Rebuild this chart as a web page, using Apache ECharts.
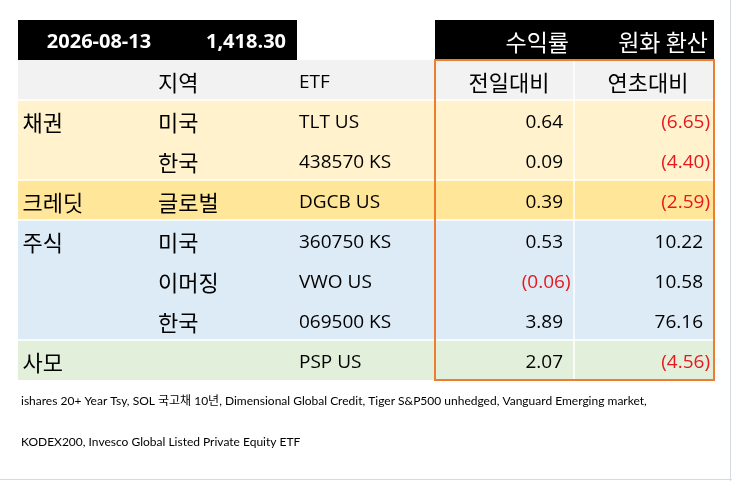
<!DOCTYPE html>
<html>
<head>
<meta charset="utf-8">
<script src="https://cdn.jsdelivr.net/npm/echarts@6/dist/echarts.min.js"></script>
<style>
html,body{margin:0;padding:0;background:#fff;}
#chart{width:732px;height:481px;}
</style>
</head>
<body>
<div id="chart"></div>
<script>
// ---- data ----
const titleDate = '2026-08-13';
const fxRate = 1418.30;
const titleLabels = ['수익률', '원화 환산'];
const headerLabels = ['지역', 'ETF', '전일대비', '연초대비'];
const assetGroups = ['채권', '', '크레딧', '주식', '', '', '사모'];
const groupKeys = ['bond', 'bond', 'credit', 'equity', 'equity', 'equity', 'pe'];
const regions = ['미국', '한국', '글로벌', '미국', '이머징', '한국', ''];
const etfs = ['TLT US', '438570 KS', 'DGCB US', '360750 KS', 'VWO US', '069500 KS', 'PSP US'];
const dailyReturn = [0.64, 0.09, 0.39, 0.53, -0.06, 3.89, 2.07];
const ytdReturn = [-6.65, -4.40, -2.59, 10.22, 10.58, 76.16, -4.56];
const footnotes = [
  'ishares 20+ Year Tsy, SOL 국고채 10년, Dimensional Global Credit, Tiger S&P500 unhedged, Vanguard Emerging market,',
  'KODEX200, Invesco Global Listed Private Equity ETF'
];

// ---- styles ----
const rowFill = { bond: '#fff2cc', credit: '#ffe699', equity: '#ddebf7', pe: '#e2efda' };
const FONT = '"Open Sans", "Noto Sans CJK KR", sans-serif';
const KFONT = '"Noto Sans CJK KR", "Open Sans", sans-serif';
const RED = '#e8171d';
const ORANGE = '#ed7d31';

// column layout in grid units (1 unit = 1px)
const X = { start: 0, titleLeftEnd: 279, valStart: 417, mid: 556, end: 696,
  grp: 4.5, region: 140, etf: 281,
  dailyPos: 545, dailyNeg: 552.5, ytdPos: 685, ytdNeg: 692,
  hdrDaily: 491, hdrYtd: 630, date: 81, fx: 268, tit1: 551, tit2: 690 };

function fmtNum(v) {
  const s = Math.abs(v).toFixed(2);
  return v < 0 ? '(' + s + ')' : s;
}
function fmtFx(v) {
  return v.toLocaleString('en-US', { minimumFractionDigits: 2, maximumFractionDigits: 2 });
}

function box(api, x1, y1, x2, y2) {
  const a = api.coord([x1, y1]);
  const b = api.coord([x2, y2]);
  return { x: a[0], y: a[1], width: b[0] - a[0], height: b[1] - a[1] };
}
function txt(api, x, row, text, opts) {
  const p = api.coord([x, row + 0.5]);
  return {
    type: 'text',
    x: p[0], y: p[1] + (opts.dy || 0),
    style: {
      text: text,
      fill: opts.color || '#000',
      font: (opts.weight || 'normal') + ' ' + opts.size + 'px ' + (opts.family || FONT),
      align: opts.align || 'left',
      verticalAlign: 'middle'
    }
  };
}

const rowIdx = etfs.map((_, i) => i);
const LAT = 2.5;   // vertical nudge for latin text
const KOR = 2.5;   // vertical nudge for korean text

const option = {
  animation: false,
  backgroundColor: '#ffffff',
  grid: { left: 18, top: 20, width: 696, height: 360 },
  xAxis: { type: 'value', min: 0, max: 696, show: false },
  yAxis: { type: 'value', min: 0, max: 9, inverse: true, show: false },
  graphic: [
    { type: 'line', shape: { x1: 730.5, y1: 0, x2: 730.5, y2: 481 }, style: { stroke: '#d6dbe3', lineWidth: 1 } },
    { type: 'line', shape: { x1: 0, y1: 479.5, x2: 732, y2: 479.5 }, style: { stroke: '#d6dbe3', lineWidth: 1 } },
    { type: 'text', x: 21, y: 401, style: { text: footnotes[0], font: '12px Lato, "Noto Sans CJK KR", sans-serif', fill: '#000', verticalAlign: 'middle' } },
    { type: 'text', x: 21, y: 442, style: { text: footnotes[1], font: '12px Lato, "Noto Sans CJK KR", sans-serif', fill: '#000', verticalAlign: 'middle' } }
  ],
  series: [
    // title + header row
    {
      type: 'custom',
      data: [0],
      renderItem: function (params, api) {
        const els = [];
        els.push({ type: 'rect', shape: box(api, X.start, 0, X.titleLeftEnd, 1), style: { fill: '#000' } });
        els.push({ type: 'rect', shape: box(api, X.valStart, 0, X.end, 1), style: { fill: '#000' } });
        els.push(txt(api, X.date, 0, titleDate, { size: 20, weight: 'bold', color: '#fff', align: 'center', dy: LAT }));
        els.push(txt(api, X.fx, 0, fmtFx(fxRate), { size: 20, weight: 'bold', color: '#fff', align: 'right', dy: LAT }));
        els.push(txt(api, X.tit1, 0, titleLabels[0], { size: 23, color: '#fff', align: 'right', family: KFONT, dy: KOR }));
        els.push(txt(api, X.tit2, 0, titleLabels[1], { size: 23, color: '#fff', align: 'right', family: KFONT, dy: KOR }));
        els.push({ type: 'rect', shape: box(api, X.start, 1, X.end, 2), style: { fill: '#f2f2f2' } });
        els.push(txt(api, X.region, 1, headerLabels[0], { size: 22, family: KFONT, dy: KOR }));
        els.push(txt(api, X.etf, 1, headerLabels[1], { size: 19, dy: LAT }));
        els.push(txt(api, X.hdrDaily, 1, headerLabels[2], { size: 22, family: KFONT, align: 'center', dy: KOR }));
        els.push(txt(api, X.hdrYtd, 1, headerLabels[3], { size: 22, family: KFONT, align: 'center', dy: KOR }));
        return { type: 'group', children: els };
      }
    },
    // data rows
    {
      type: 'custom',
      data: rowIdx,
      renderItem: function (params, api) {
        const i = api.value(0);
        const r = i + 2;
        const els = [];
        els.push({ type: 'rect', shape: box(api, X.start, r, X.end, r + 1), style: { fill: rowFill[groupKeys[i]] } });
        if (assetGroups[i]) els.push(txt(api, X.grp, r, assetGroups[i], { size: 22, family: KFONT, dy: KOR }));
        if (regions[i]) els.push(txt(api, X.region, r, regions[i], { size: 22, family: KFONT, dy: KOR }));
        els.push(txt(api, X.etf, r, etfs[i], { size: 19, dy: LAT }));
        const d = dailyReturn[i], y = ytdReturn[i];
        els.push(txt(api, d < 0 ? X.dailyNeg : X.dailyPos, r, fmtNum(d), { size: 19, align: 'right', color: d < 0 ? RED : '#000', dy: LAT }));
        els.push(txt(api, y < 0 ? X.ytdNeg : X.ytdPos, r, fmtNum(y), { size: 19, align: 'right', color: y < 0 ? RED : '#000', dy: LAT }));
        return { type: 'group', children: els };
      }
    },
    // separators and border
    {
      type: 'custom',
      data: [0],
      z: 5,
      renderItem: function (params, api) {
        const els = [];
        const lines = [];
        for (let i = 0; i < groupKeys.length; i++) {
          if (i === 0 || groupKeys[i] !== groupKeys[i - 1]) lines.push(i + 2);
        }
        lines.forEach(function (r) {
          const a = api.coord([X.start, r]);
          const b = api.coord([X.end, r]);
          els.push({ type: 'line', shape: { x1: a[0], y1: a[1], x2: b[0], y2: b[1] }, style: { stroke: '#ffffff', lineWidth: 1.5 } });
        });
        const m1 = api.coord([X.mid, 1]);
        const m2 = api.coord([X.mid, 9]);
        els.push({ type: 'line', shape: { x1: m1[0], y1: m1[1], x2: m2[0], y2: m2[1] }, style: { stroke: '#ffffff', lineWidth: 1.5 } });
        const bx = box(api, X.valStart, 1, X.end, 9);
        els.push({ type: 'rect', shape: bx, style: { fill: 'none', stroke: ORANGE, lineWidth: 2 } });
        return { type: 'group', children: els };
      }
    }
  ]
};

const chart = echarts.init(document.getElementById('chart'), null, { renderer: 'canvas' });
chart.setOption(option);
</script>
</body>
</html>
